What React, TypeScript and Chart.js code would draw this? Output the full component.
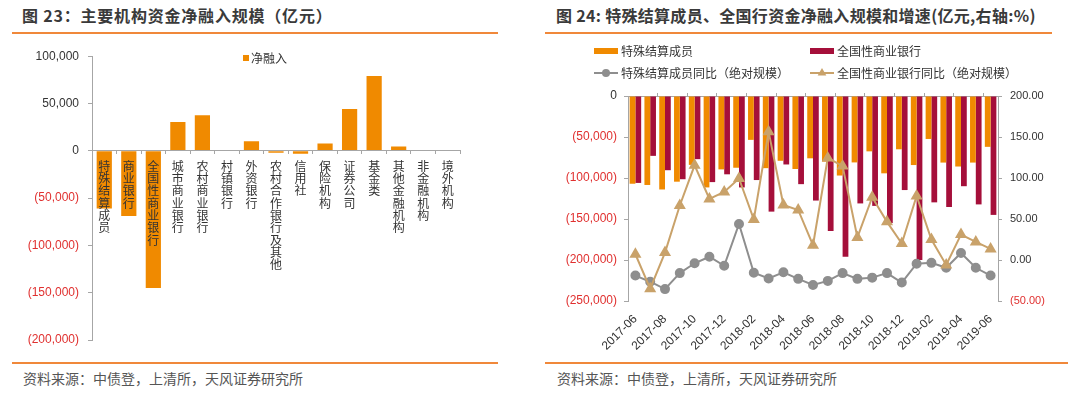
import React, { useEffect, useRef } from 'react';
import { Chart, registerables } from 'chart.js';

Chart.register(...registerables);

// ---------- Data: Figure 23 ----------
const institutions = [
  '特殊结算成员', '商业银行', '全国性商业银行', '城市商业银行', '农村商业银行', '村镇银行', '外资银行',
  '农村合作银行及其他', '信用社', '保险机构', '证券公司', '基金类', '其他金融机构', '非金融机构', '境外机构',
];
const netFinancing = [-61000, -69000, -145000, 30500, 37500, 300, 10000, -2000, -3000, 7800, 44300, 79000, 4500, 0, 0];
const leftSeriesName = '净融入';

// ---------- Data: Figure 24 ----------
const months = [
  '2017-06', '2017-07', '2017-08', '2017-09', '2017-10', '2017-11', '2017-12',
  '2018-01', '2018-02', '2018-03', '2018-04', '2018-05', '2018-06', '2018-07', '2018-08', '2018-09', '2018-10', '2018-11', '2018-12',
  '2019-01', '2019-02', '2019-03', '2019-04', '2019-05', '2019-06',
];
const specialMembers = [-107000, -108500, -114000, -104500, -84000, -111500, -89500, -87500, -53500, -88000, -79000, -89000, -76000, -80000, -97000, -81000, -67500, -94300, -65000, -84200, -52400, -81200, -86000, -81200, -62000];
const nationalBanks = [-106000, -73000, -90500, -101500, -77000, -105000, -95500, -111500, -102500, -141000, -83500, -107500, -127500, -164500, -196000, -131000, -134000, -155000, -114700, -200000, -129700, -135400, -110000, -132200, -145000];
const specialYoY = [-19, -26.5, -35.5, -16, -4, 4, -7, 44, -15.5, -22.5, -15, -23, -30.5, -25.5, -16, -23, -21.5, -16, -27.5, -4.5, -3.5, -9.5, 8.5, -9.5, -19];
const nationalYoY = [7, -35, 9, 66.5, 115.5, 74.5, 83, 99.5, 49.5, 156.5, 67, 61, 18, 124.5, 114.5, 27.5, 76.5, 46.5, 20, 78, 25, -6, 31, 22, 13.5];
const rightSeriesNames = ['特殊结算成员', '全国性商业银行', '特殊结算成员同比（绝对规模）', '全国性商业银行同比（绝对规模）'];

// ---------- Styles ----------
const ORANGE = '#F08A00';
const CRIMSON = '#A50F3A';
const GRAY = '#8E8E8E';
const TAN = '#C9A26A';
const RED = '#E0302F';
const AXIS = '#A6A6A6';
const TEXT = '#333333';
const RULE = '#F0883A';
const LATIN = "'Liberation Sans', 'Noto Sans CJK SC', sans-serif";
const CJK = "'Noto Sans CJK SC', 'Liberation Sans', sans-serif";

Chart.defaults.font.family = LATIN;

function fmtThousands(v: number): string {
  const s = Math.abs(v).toLocaleString('en-US');
  return v < 0 ? `(${s})` : s;
}
function fmtPct(v: number): string {
  const s = Math.abs(v).toFixed(2);
  return v < 0 ? `(${s})` : s;
}

const leftLegendPlugin = {
  id: 'leftLegend',
  afterDraw(chart: any) {
    const ctx = chart.ctx;
    const ds = chart.data.datasets[0];
    ctx.save();
    ctx.fillStyle = ds.backgroundColor;
    ctx.fillRect(243, 15, 6, 6);
    ctx.fillStyle = TEXT;
    ctx.font = `12px ${CJK}`;
    ctx.textBaseline = 'middle';
    ctx.textAlign = 'left';
    ctx.fillText(ds.label, 251, 18);
    ctx.restore();
  },
};

const rightLegendPlugin = {
  id: 'rightLegend',
  afterDraw(chart: any) {
    const ctx = chart.ctx;
    const items = [
      { i: 0, x: 54, y: 11 },
      { i: 1, x: 270, y: 11 },
      { i: 2, x: 54, y: 33 },
      { i: 3, x: 270, y: 33 },
    ];
    ctx.save();
    ctx.font = `12px ${CJK}`;
    ctx.textBaseline = 'middle';
    ctx.textAlign = 'left';
    for (const it of items) {
      const ds = chart.data.datasets[it.i];
      if (ds.type === 'line') {
        ctx.strokeStyle = ds.borderColor;
        ctx.lineWidth = 2;
        ctx.beginPath();
        ctx.moveTo(it.x, it.y);
        ctx.lineTo(it.x + 24, it.y);
        ctx.stroke();
        ctx.fillStyle = ds.borderColor;
        const cx = it.x + 12;
        const cy = it.y;
        ctx.beginPath();
        if (ds.pointStyle === 'triangle') {
          const r = 5;
          ctx.moveTo(cx, cy - r);
          ctx.lineTo(cx + r * 0.866, cy + r / 2);
          ctx.lineTo(cx - r * 0.866, cy + r / 2);
          ctx.closePath();
        } else {
          ctx.arc(cx, cy, 4, 0, Math.PI * 2);
        }
        ctx.fill();
      } else {
        ctx.fillStyle = ds.backgroundColor;
        ctx.fillRect(it.x, it.y - 3, 24, 6);
      }
      ctx.fillStyle = TEXT;
      ctx.fillText(ds.label, it.x + 27, it.y);
    }
    ctx.restore();
  },
};

function LeftChart() {
  const ref = useRef<HTMLCanvasElement>(null);
  useEffect(() => {
    if (!ref.current) return;
    const chart = new Chart(ref.current, {
      type: 'bar',
      data: {
        labels: institutions,
        datasets: [
          {
            label: leftSeriesName,
            data: netFinancing,
            backgroundColor: ORANGE,
            barPercentage: 0.62,
            categoryPercentage: 1,
          },
        ],
      },
      options: {
        responsive: false,
        animation: false,
        layout: { padding: { top: 14, right: 60, bottom: 20, left: 0 } },
        plugins: { legend: { display: false }, tooltip: { enabled: false } },
        scales: {
          x: {
            type: 'category',
            position: { y: 0 } as any,
            offset: true,
            grid: { display: true, drawOnChartArea: false, offset: true, tickLength: 3, color: AXIS, z: 1 },
            border: { display: true, color: AXIS, z: 1 },
            ticks: {
              z: 1,
              autoSkip: false,
              maxRotation: 0,
              minRotation: 0,
              padding: 6,
              color: TEXT,
              font: { family: CJK, size: 12, lineHeight: 1.03 },
              callback: (_v: any, i: number) => Array.from(institutions[i]),
            },
          },
          y: {
            type: 'linear',
            min: -200000,
            max: 100000,
            grid: { drawOnChartArea: false, tickLength: 4, color: AXIS },
            border: { display: true, color: AXIS },
            ticks: {
              stepSize: 50000,
              padding: 9,
              font: { size: 12 },
              color: (c: any) => (c.tick && c.tick.value < 0 ? RED : TEXT),
              callback: (v: any) => fmtThousands(Number(v)),
            },
            afterFit: (s: any) => {
              s.width = 92;
            },
          },
        },
      } as any,
      plugins: [leftLegendPlugin],
    });
    return () => chart.destroy();
  }, []);
  return <canvas ref={ref} width={520} height={320} style={{ position: 'absolute', left: 0, top: 40, width: 520, height: 320 }} />;
}

function RightChart() {
  const ref = useRef<HTMLCanvasElement>(null);
  useEffect(() => {
    if (!ref.current) return;
    const chart = new Chart(ref.current, {
      type: 'bar',
      data: {
        labels: months,
        datasets: [
          {
            type: 'bar',
            label: rightSeriesNames[0],
            data: specialMembers,
            backgroundColor: ORANGE,
            barPercentage: 1,
            categoryPercentage: 0.78,
            yAxisID: 'y',
            order: 2,
          },
          {
            type: 'bar',
            label: rightSeriesNames[1],
            data: nationalBanks,
            backgroundColor: CRIMSON,
            barPercentage: 1,
            categoryPercentage: 0.78,
            yAxisID: 'y',
            order: 2,
          },
          {
            type: 'line',
            label: rightSeriesNames[2],
            data: specialYoY,
            borderColor: GRAY,
            backgroundColor: GRAY,
            pointBackgroundColor: GRAY,
            pointBorderColor: GRAY,
            pointStyle: 'circle',
            pointRadius: 4,
            borderWidth: 2,
            yAxisID: 'y1',
            order: 1,
          },
          {
            type: 'line',
            label: rightSeriesNames[3],
            data: nationalYoY,
            borderColor: TAN,
            backgroundColor: TAN,
            pointBackgroundColor: TAN,
            pointBorderColor: TAN,
            pointStyle: 'triangle',
            pointRadius: 5,
            borderWidth: 2,
            yAxisID: 'y1',
            order: 0,
          },
        ],
      } as any,
      options: {
        responsive: false,
        animation: false,
        layout: { padding: 0 },
        plugins: { legend: { display: false }, tooltip: { enabled: false } },
        scales: {
          x: {
            type: 'category',
            position: 'bottom',
            offset: true,
            grid: { display: false },
            border: { display: false },
            ticks: {
              autoSkip: false,
              maxRotation: 45,
              minRotation: 45,
              padding: 3,
              color: TEXT,
              font: { size: 12 },
              callback: (_v: any, i: number) => (i % 2 === 0 ? months[i] : ''),
            },
            afterFit: (s: any) => {
              s.height = 59;
            },
          },
          x2: {
            type: 'category',
            labels: months,
            position: 'top',
            offset: true,
            grid: {
              drawOnChartArea: false,
              offset: true,
              tickLength: 3,
              color: (c: any) => (c.index > 0 && c.index % 2 === 0 ? AXIS : 'rgba(0,0,0,0)'),
            },
            border: { display: true, color: AXIS },
            ticks: { display: false },
            afterFit: (s: any) => {
              s.height = 56;
            },
          },
          y: {
            type: 'linear',
            position: 'left',
            min: -250000,
            max: 0,
            grid: { drawOnChartArea: false, tickLength: 4, color: AXIS },
            border: { display: true, color: AXIS },
            ticks: {
              stepSize: 50000,
              padding: 7,
              font: { size: 12 },
              color: (c: any) => (c.tick && c.tick.value < 0 ? RED : TEXT),
              callback: (v: any) => fmtThousands(Number(v)),
            },
            afterFit: (s: any) => {
              s.width = 88;
            },
          },
          y1: {
            type: 'linear',
            position: 'right',
            min: -50,
            max: 200,
            grid: { drawOnChartArea: false, tickLength: 4, color: AXIS },
            border: { display: true, color: AXIS },
            ticks: {
              stepSize: 50,
              padding: 8,
              font: { size: 11 },
              color: (c: any) => (c.tick && c.tick.value < 0 ? RED : TEXT),
              callback: (v: any) => fmtPct(Number(v)),
            },
            afterFit: (s: any) => {
              s.width = 82;
            },
          },
        },
      } as any,
      plugins: [rightLegendPlugin],
    });
    return () => chart.destroy();
  }, []);
  return <canvas ref={ref} width={540} height={320} style={{ position: 'absolute', left: 540, top: 40, width: 540, height: 320 }} />;
}

const titleStyle: React.CSSProperties = {
  position: 'absolute',
  top: 5,
  fontSize: 16,
  lineHeight: '20px',
  fontWeight: 'bold',
  color: '#3a3a3a',
  fontFamily: CJK,
  whiteSpace: 'nowrap',
};
const sourceStyle: React.CSSProperties = {
  position: 'absolute',
  top: 369,
  fontSize: 14,
  lineHeight: '18px',
  color: '#555',
  fontFamily: CJK,
  whiteSpace: 'nowrap',
};
const rule = (left: number, top: number, width: number): React.CSSProperties => ({
  position: 'absolute',
  left,
  top,
  width,
  height: 2,
  background: RULE,
});

export default function App() {
  return (
    <div style={{ position: 'absolute', left: 0, top: 0, width: 1080, height: 399, background: '#fff', overflow: 'hidden' }}>
      <div style={{ ...titleStyle, left: 22, letterSpacing: '0.8px' }}>图 23：主要机构资金净融入规模（亿元）</div>
      <div style={{ ...titleStyle, left: 556, letterSpacing: '0.3px' }}>图 24: 特殊结算成员、全国行资金净融入规模和增速(亿元,右轴:%)</div>
      <div style={rule(12, 32, 486)} />
      <div style={rule(545, 32, 507)} />
      <LeftChart />
      <RightChart />
      <div style={rule(12, 362, 486)} />
      <div style={rule(545, 362, 523)} />
      <div style={{ ...sourceStyle, left: 23 }}>资料来源：中债登，上清所，天风证券研究所</div>
      <div style={{ ...sourceStyle, left: 557 }}>资料来源：中债登，上清所，天风证券研究所</div>
    </div>
  );
}
